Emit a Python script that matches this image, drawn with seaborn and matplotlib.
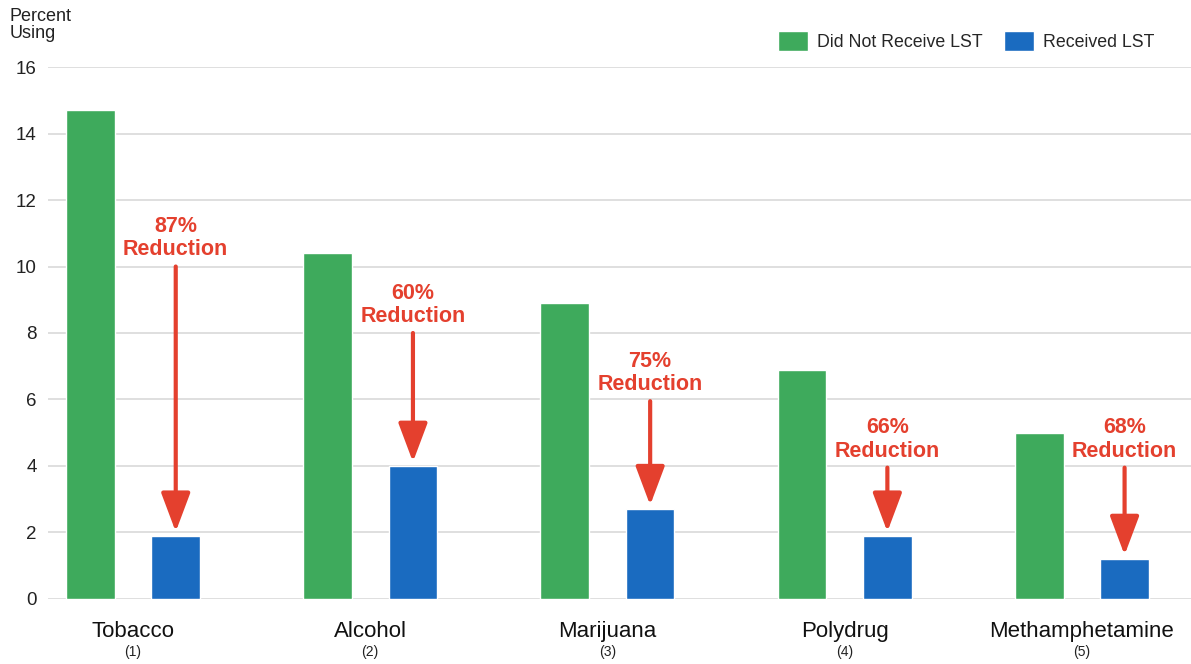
import pandas as pd
import matplotlib.pyplot as plt
import seaborn as sns

# Chart values
drugs = ['Tobacco', 'Alcohol', 'Marijuana', 'Polydrug', 'Methamphetamine']
drug_nums = ['(1)', '(2)', '(3)', '(4)', '(5)']
no_lst = [14.7, 10.4, 8.9, 6.9, 5.0]
got_lst = [1.9, 4.0, 2.7, 1.9, 1.2]
reductions = ['87%', '60%', '75%', '66%', '68%']
# where the "Reduction" label sits (annotation layout, in percent units)
label_y = [10.85, 8.85, 6.8, 4.8, 4.8]

groups = ['Did Not Receive LST', 'Received LST']
df = pd.DataFrame({
    'Drug': drugs * 2,
    'Percent': no_lst + got_lst,
    'Group': [groups[0]] * len(drugs) + [groups[1]] * len(drugs),
})

green = '#3EAA5C'
blue = '#1A6BC0'
red = '#E4402E'

sns.set_style('white')
plt.rcParams['font.family'] = ['Liberation Sans', 'DejaVu Sans']

fig = plt.figure(figsize=(11.91, 6.64), dpi=100)
ax = fig.add_axes([0.040, 0.098, 0.960, 0.801])

sns.barplot(data=df, x='Drug', y='Percent', hue='Group', order=drugs,
            hue_order=groups, palette=[green, blue], width=0.72, gap=0.43,
            saturation=1, ax=ax, legend=True)

ax.set_ylim(0, 16)
ax.set_xlim(-0.36, 4.46)
ax.set_yticks(range(0, 17, 2))
ax.yaxis.grid(True, color='#D9D9D9', lw=1.2)
ax.set_axisbelow(True)
for s in ax.spines.values():
    s.set_visible(False)
ax.tick_params(axis='y', length=0, pad=8, labelsize=13.5, labelcolor='#222222')
ax.tick_params(axis='x', length=0, pad=16, labelsize=16, labelcolor='#111111')
ax.set_xlabel('')
ax.set_ylabel('')

# small numbers under category names
for i, n in enumerate(drug_nums):
    ax.text(i, -1.6, n, ha='center', va='center', fontsize=10, color='#222222')

# reduction arrows and labels above the blue bars
for i, (r, ly, b) in enumerate(zip(reductions, label_y, got_lst)):
    x = i + 0.18
    ax.text(x, ly, f'{r}\nReduction', ha='center', va='center', fontsize=15.5,
            fontweight='bold', color=red, linespacing=1.15)
    ax.annotate('', xy=(x, b + 0.12), xytext=(x, ly - 0.85),
                arrowprops=dict(arrowstyle='-|>,head_width=0.45,head_length=1.2',
                                mutation_scale=20, lw=3, color=red,
                                shrinkA=0, shrinkB=0))

leg = ax.legend(loc='lower right', bbox_to_anchor=(0.982, 1.0), ncol=2, frameon=False,
                fontsize=12.8, handlelength=1.7, handleheight=1.3, columnspacing=1.2,
                handletextpad=0.5)

fig.text(0.008, 0.988, 'Percent\nUsing', ha='left', va='top', fontsize=13,
         color='#222222', linespacing=1.0)

fig.savefig('out.png', dpi=100, facecolor='white')
